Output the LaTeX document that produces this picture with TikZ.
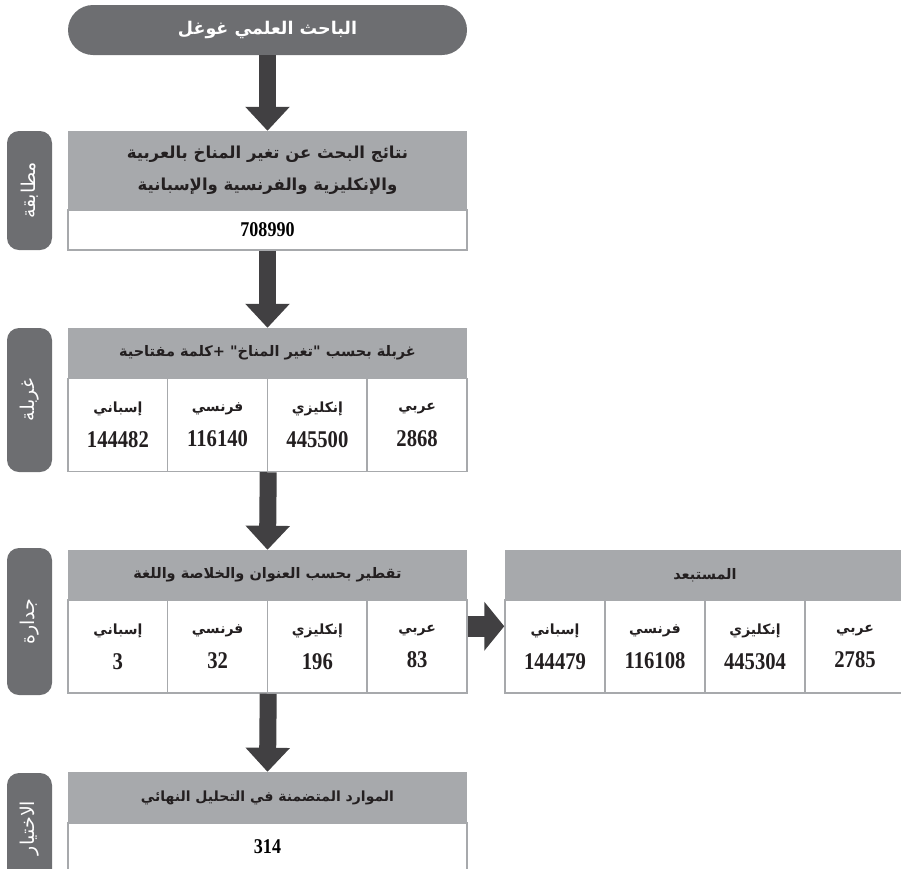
\documentclass[tikz,border=0pt]{standalone}
\usepackage{fontspec}
\usepackage{xcolor}
\usetikzlibrary{arrows.meta}
\TeXXeTstate=1
\newfontfamily\arabicfont[Script=Arabic]{DejaVu Sans}
\newfontfamily\numfont[FakeStretch=0.86]{Liberation Serif}
\definecolor{darkgrey}{HTML}{6D6E71}
\definecolor{midgrey}{HTML}{A7A9AC}
\definecolor{arrowgrey}{HTML}{414042}
\definecolor{inkgrey}{HTML}{231F20}
\newcommand{\artxt}[1]{{\arabicfont\bfseries\beginR #1\endR}}
\newcommand{\langcell}[2]{\artxt{#1}\\[15pt]{\numfont\bfseries\fontsize{24}{26}\selectfont #2}}

\begin{document}
\begin{tikzpicture}[x=1pt,y=-1pt,every node/.style={inner sep=0pt},
    pill/.style={fill=darkgrey, text=white, rounded corners=25pt, minimum width=399pt, minimum height=50pt, font=\fontsize{17.5}{20}\selectfont},
    hdr/.style={fill=midgrey, text=inkgrey, minimum width=399pt, align=center, font=\fontsize{14.5}{32}\selectfont},
    valrow/.style={draw=midgrey, line width=1.5pt, fill=white, minimum width=399pt, font=\numfont\bfseries\fontsize{21}{23}\selectfont},
    cell/.style={draw=midgrey, line width=1.5pt, fill=white, minimum width=99.75pt, minimum height=93pt, align=center, text=inkgrey, font=\fontsize{14}{16}\selectfont},
    side/.style={fill=darkgrey, text=white, rounded corners=12pt, rotate=90, minimum height=45pt, font=\arabicfont\fontsize{19}{21}\selectfont},
    down/.style={draw=arrowgrey, line width=17pt, -{Triangle[width=43pt,length=24pt]}},
    across/.style={draw=arrowgrey, line width=21pt, -{Triangle[width=48pt,length=20pt]}}]
\useasboundingbox (0,0) rectangle (901,868);
\clip (0,0) rectangle (901,868);

    \node[pill] (top) at (267.5,30) {\artxt{الباحث العلمي غوغل}};

    % matching
    \node[side, minimum width=119pt] (s1) at (29.5,190.5) {\beginR مطابقة\endR};
    \node[hdr, minimum height=79pt, font=\fontsize{16.5}{32}\selectfont] (b1h) at (267.5,170.5) {\artxt{نتائج البحث عن تغير المناخ بالعربية}\\\artxt{والإنكليزية والفرنسية والإسبانية}};
    \node[valrow, minimum height=40pt] (b1v) at (267.5,230) {708990};

    % screening
    \node[side, minimum width=144pt] (s2) at (29.5,400) {\beginR غربلة\endR};
    \node[hdr, minimum height=50pt] (b2h) at (267.5,353) {\artxt{غربلة بحسب "تغير المناخ" +كلمة مفتاحية}};
    \node[cell] (c21) at (117.9,425) {\langcell{إسباني}{144482}};
    \node[cell] (c22) at (217.6,425) {\langcell{فرنسي}{116140}};
    \node[cell] (c23) at (317.4,425) {\langcell{إنكليزي}{445500}};
    \node[cell] (c24) at (417.1,425) {\langcell{عربي}{2868}};

    % eligibility
    \node[side, minimum width=147pt] (s3) at (29.5,621.5) {\beginR جدارة\endR};
    \node[hdr, minimum height=50pt] (b3h) at (267.5,575) {\artxt{تقطير بحسب العنوان والخلاصة واللغة}};
    \node[cell] (c31) at (117.9,646.5) {\langcell{إسباني}{3}};
    \node[cell] (c32) at (217.6,646.5) {\langcell{فرنسي}{32}};
    \node[cell] (c33) at (317.4,646.5) {\langcell{إنكليزي}{196}};
    \node[cell] (c34) at (417.1,646.5) {\langcell{عربي}{83}};

    % excluded
    \node[hdr, minimum width=400pt, minimum height=50pt] (b4h) at (705,575) {\artxt{المستبعد}};
    \node[cell, minimum width=100pt] (c41) at (555,646.5) {\langcell{إسباني}{144479}};
    \node[cell, minimum width=100pt] (c42) at (655,646.5) {\langcell{فرنسي}{116108}};
    \node[cell, minimum width=100pt] (c43) at (755,646.5) {\langcell{إنكليزي}{445304}};
    \node[cell, minimum width=100pt] (c44) at (855,646.5) {\langcell{عربي}{2785}};

    % inclusion
    \node[side, minimum width=110pt] (s4) at (29.5,828) {\beginR الاختيار\endR};
    \node[hdr, minimum height=51pt, font=\fontsize{14}{32}\selectfont] (b5h) at (267.5,797.5) {\artxt{الموارد المتضمنة في التحليل النهائي}};
    \node[valrow, minimum height=48pt] (b5v) at (267.5,847) {314};

    % draw the arrows
    \draw[down] (top.south) -- (b1h.north);
    \draw[down] (b1v.south) -- (b2h.north);
    \draw[down] (c22.south east) -- (b3h.north);
    \draw[down] (c32.south east) -- (b5h.north);
    \draw[across] ([yshift=-27pt]c34.north east) -- ([yshift=-27pt]c41.north west);

\end{tikzpicture}
\end{document}
